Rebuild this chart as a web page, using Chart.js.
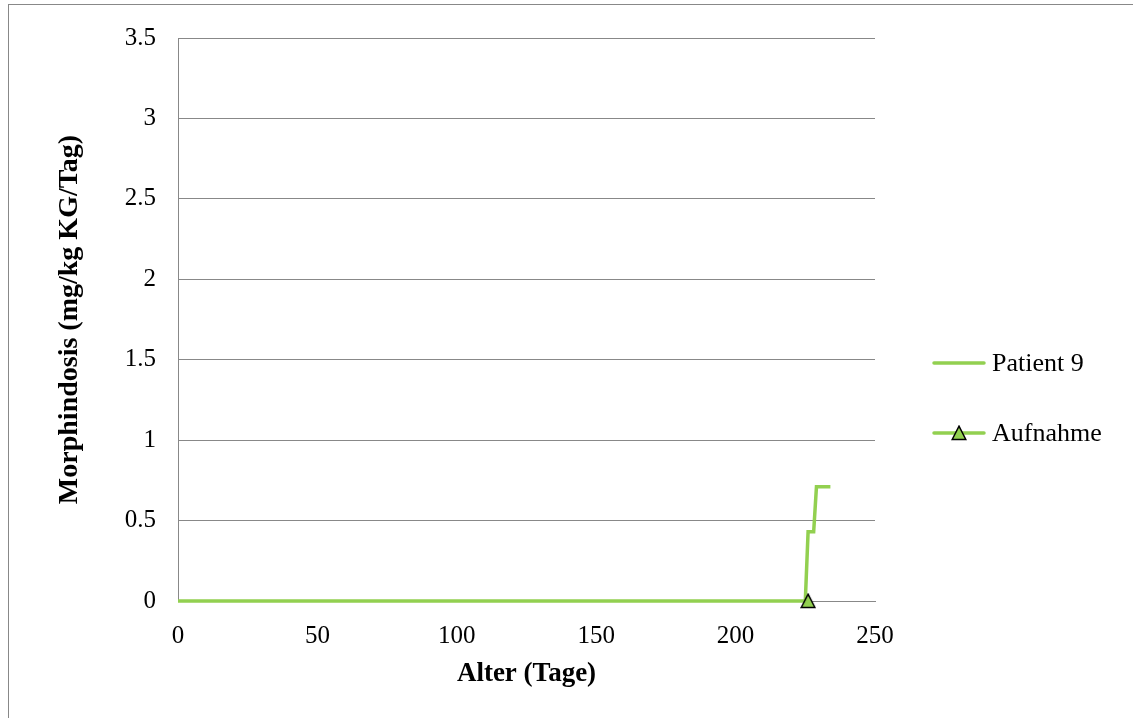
<!DOCTYPE html>
<html>
<head>
<meta charset="utf-8">
<script src="https://cdn.jsdelivr.net/npm/chart.js@4.4.1/dist/chart.umd.min.js"></script>
<style>
html,body{margin:0;padding:0;background:#fff;overflow:hidden;}
#wrap{position:absolute;left:0;top:0;width:1133px;height:718px;}
#frame{position:absolute;left:8px;top:4px;width:2000px;height:2000px;border-left:1px solid #888;border-top:1px solid #888;box-sizing:border-box;pointer-events:none;}
canvas{position:absolute;left:0;top:0;}
</style>
</head>
<body>
<div id="wrap">
<div id="frame"></div>
<canvas id="c" width="1133" height="718"></canvas>
</div>
<script>
// Data
const patientDays  = [0, 225, 226, 228, 229, 234];
const patientDose  = [0, 0, 0.43, 0.43, 0.71, 0.71];
const admissionDays = [226];
const admissionDose = [0];
const seriesNames = ['Patient 9', 'Aufnahme'];
const xTicks = [0, 50, 100, 150, 200, 250];
const yTicks = [0, 0.5, 1, 1.5, 2, 2.5, 3, 3.5];

const GREEN = '#92D050';
const FONT = "'Liberation Serif', 'Times New Roman', serif";

const toPts = (xs, ys) => xs.map((x, i) => ({x: x, y: ys[i]}));

// Excel-like triangle marker (box-centred, apex up)
function makeTriangle(size) {
  const c = document.createElement('canvas');
  c.width = size + 2; c.height = size + 2;
  const g = c.getContext('2d');
  g.fillStyle = GREEN;
  g.strokeStyle = '#000';
  g.lineWidth = 1.5;
  g.lineJoin = 'miter';
  g.beginPath();
  g.moveTo(1 + size / 2, 1.2);
  g.lineTo(size + 0.8, size + 0.5);
  g.lineTo(1.2, size + 0.5);
  g.closePath();
  g.fill();
  g.stroke();
  return c;
}
const triMarker = makeTriangle(14);

const legendPlugin = {
  id: 'excelLegend',
  afterDraw(chart) {
    const ctx = chart.ctx;
    const ds = chart.data.datasets;
    const rows = [363, 433];
    ctx.save();
    ds.forEach((d, i) => {
      const y = rows[i];
      ctx.strokeStyle = d.borderColor;
      ctx.lineWidth = d.borderWidth;
      ctx.lineCap = 'round';
      ctx.beginPath();
      ctx.moveTo(934, y);
      ctx.lineTo(984, y);
      ctx.stroke();
      if (d.pointRadius > 0) {
        Chart.helpers.drawPoint(ctx, { pointStyle: d.pointStyle, radius: d.pointRadius, rotation: 0 }, 959, y);
      }
      ctx.fillStyle = '#000';
      ctx.font = '26px ' + FONT;
      ctx.textBaseline = 'middle';
      ctx.textAlign = 'left';
      ctx.fillText(d.label, 992, y + 1);
    });
    ctx.restore();
  }
};

new Chart(document.getElementById('c'), {
  type: 'scatter',
  data: {
    datasets: [
      {
        label: seriesNames[0],
        data: toPts(patientDays, patientDose),
        showLine: true,
        borderColor: GREEN,
        backgroundColor: GREEN,
        borderWidth: 3.5,
        pointRadius: 0,
        pointHoverRadius: 0,
        tension: 0,
        clip: false,
        order: 2
      },
      {
        label: seriesNames[1],
        data: toPts(admissionDays, admissionDose),
        showLine: true,
        borderColor: GREEN,
        borderWidth: 3.5,
        pointStyle: triMarker,
        pointRadius: 8,
        clip: false,
        order: 1
      }
    ]
  },
  options: {
    responsive: false,
    animation: false,
    events: [],
    layout: { padding: { left: 9, top: 38, right: 258, bottom: 28 } },
    plugins: { legend: { display: false }, tooltip: { enabled: false } },
    scales: {
      x: {
        type: 'linear',
        min: 0, max: 250,
        afterBuildTicks(s) { s.ticks = xTicks.map(v => ({value: v})); },
        afterFit(s) { s.height = 89; },
        grid: { display: false, drawTicks: false },
        border: { display: true, color: '#888', width: 1 },
        ticks: { color: '#000', font: { family: FONT, size: 25 }, padding: 20, maxRotation: 0, callback: v => String(v) },
        title: { display: true, text: 'Alter (Tage)', color: '#000', font: { family: FONT, size: 27, weight: 'bold' }, padding: { top: 4, bottom: 0 } }
      },
      y: {
        type: 'linear',
        min: 0, max: 3.5,
        afterBuildTicks(s) { s.ticks = yTicks.map(v => ({value: v})); },
        afterFit(s) { s.width = 169; },
        grid: { color: '#888', lineWidth: 1, drawTicks: false },
        border: { display: true, color: '#888', width: 1 },
        ticks: { color: '#000', font: { family: FONT, size: 25 }, padding: 22, callback: v => String(v) },
        title: { display: true, text: 'Morphindosis (mg/kg KG/Tag)', color: '#000', font: { family: FONT, size: 28, weight: 'bold' }, padding: { top: 44 } }
      }
    }
  },
  plugins: [legendPlugin]
});
</script>
</body>
</html>
